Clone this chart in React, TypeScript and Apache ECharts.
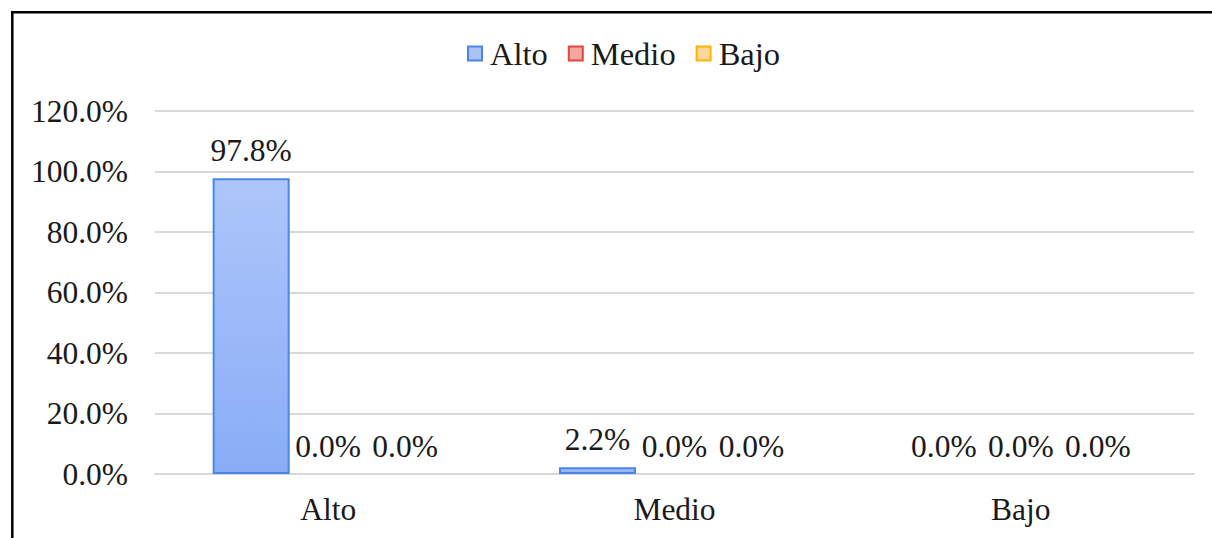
import React, { useEffect, useRef } from "react";
import * as echarts from "echarts";

const categories = ["Alto", "Medio", "Bajo"];
const seriesNames = ["Alto", "Medio", "Bajo"];
const altoValues = [97.8, 2.2, 0.0];
const medioValues = [0.0, 0.0, 0.0];
const bajoValues = [0.0, 0.0, 0.0];
const yTicks = { min: 0, max: 120, interval: 20 };

const FONT = "'Liberation Serif'";
const FS = 31.5;

const fills = [
  new echarts.graphic.LinearGradient(0, 0, 0, 1, [
    { offset: 0, color: "#adc6fa" },
    { offset: 1, color: "#8aacf7" },
  ]),
  new echarts.graphic.LinearGradient(0, 0, 0, 1, [
    { offset: 0, color: "#f6b3b0" },
    { offset: 1, color: "#f19a95" },
  ]),
  new echarts.graphic.LinearGradient(0, 0, 0, 1, [
    { offset: 0, color: "#ffdca3" },
    { offset: 1, color: "#ffd07f" },
  ]),
];
const borders = ["#4a86e8", "#e8453c", "#f9b500"];
const legendFills = ["#a9c3f7", "#f4a7a3", "#ffd796"];

export default function App() {
  const ref = useRef<HTMLDivElement>(null);
  useEffect(() => {
    if (!ref.current) return;
    const chart = echarts.init(ref.current, undefined, { renderer: "svg" });
    const values = [altoValues, medioValues, bajoValues];
    chart.setOption({
      animation: false,
      backgroundColor: "#ffffff",
      textStyle: { fontFamily: FONT },
      grid: { left: 155, right: 18, top: 111, bottom: 64, containLabel: false },
      legend: {
        left: 462,
        top: 32,
        itemWidth: 14,
        itemHeight: 14,
        itemGap: 20,
        icon: "rect",
        textStyle: { fontFamily: FONT, fontSize: 32.5, color: "#1a1a1a", padding: [0, 0, 0, 3] },
        data: seriesNames.map((n, i) => ({
          name: n,
          itemStyle: { color: legendFills[i], borderColor: borders[i], borderWidth: 2 },
        })),
      },
      xAxis: {
        type: "category",
        data: categories,
        axisTick: { show: false },
        axisLine: { lineStyle: { color: "#d9d9d9", width: 2 } },
        axisLabel: { fontFamily: FONT, fontSize: FS, color: "#1a1a1a", margin: 19 },
      },
      yAxis: {
        type: "value",
        min: yTicks.min,
        max: yTicks.max,
        interval: yTicks.interval,
        axisLine: { show: false },
        axisTick: { show: false },
        splitLine: { lineStyle: { color: "#d9d9d9", width: 2 } },
        axisLabel: {
          fontFamily: FONT,
          fontSize: FS,
          color: "#1a1a1a",
          margin: 27,
          formatter: (v: number) => v.toFixed(1) + "%",
        },
      },
      series: seriesNames.map((n, i) => ({
        name: n,
        type: "bar",
        data: values[i].map((v) => ({
          value: v,
          itemStyle: v === 0 ? { borderWidth: 0 } : undefined,
        })),
        barWidth: 77,
        barGap: "0%",
        itemStyle: { color: fills[i], borderColor: borders[i], borderWidth: 2 },
        label: {
          show: true,
          position: "top",
          distance: 12,
          fontFamily: FONT,
          fontSize: FS,
          color: "#1a1a1a",
          formatter: (p: any) => Number(p.value).toFixed(1) + "%",
        },
      })),
      graphic: [
        {
          type: "rect",
          shape: { x: 12.3, y: 12.3, width: 1300, height: 700 },
          style: { fill: "none", stroke: "#000000", lineWidth: 2.5 },
          silent: true,
          z: 100,
        },
      ],
    });
    return () => chart.dispose();
  }, []);
  return (
    <div
      ref={ref}
      style={{ position: "absolute", left: 0, top: 0, width: 1212, height: 538 }}
    />
  );
}
